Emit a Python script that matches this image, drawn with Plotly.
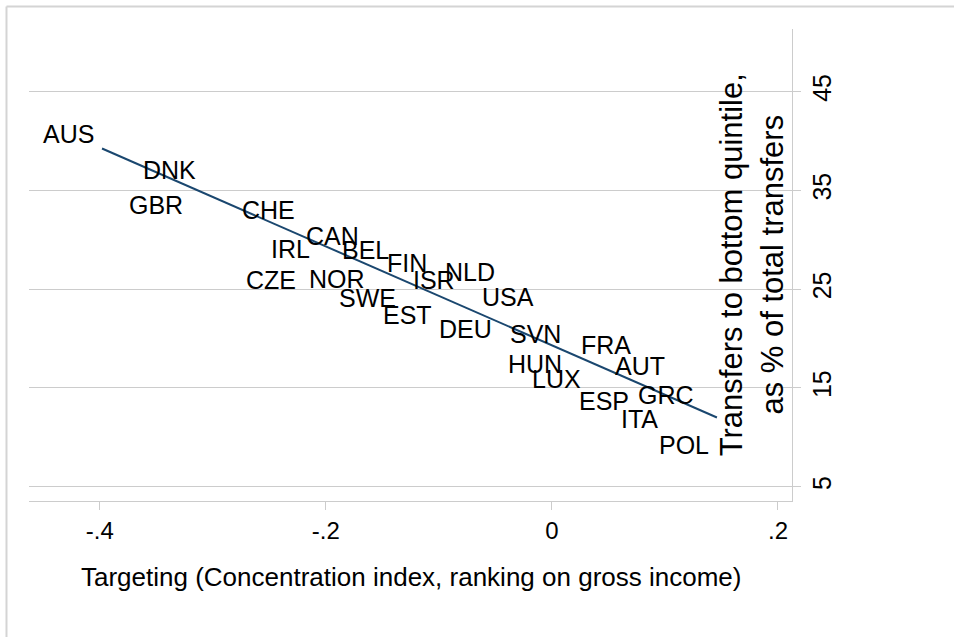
import numpy as np
import plotly.graph_objects as go

countries = ["AUS", "DNK", "GBR", "CHE", "CAN", "IRL", "BEL", "CZE", "NOR", "FIN",
             "ISR", "NLD", "SWE", "USA", "EST", "DEU", "SVN", "HUN", "FRA", "AUT",
             "LUX", "GRC", "ESP", "ITA", "POL"]
targeting = [-0.398, -0.308, -0.319, -0.220, -0.164, -0.207, -0.137, -0.219, -0.158, -0.103,
             -0.079, -0.043, -0.131, -0.009, -0.099, -0.046, 0.015, 0.016, 0.077, 0.107,
             0.033, 0.133, 0.075, 0.101, 0.146]
bottom_share = [40.1, 36.4, 32.9, 32.4, 29.7, 28.4, 28.3, 25.3, 25.4, 27.0,
                25.3, 26.1, 23.5, 23.6, 21.7, 20.3, 19.8, 16.8, 18.7, 16.6,
                15.2, 13.6, 13.0, 11.2, 8.6]

x_ticks = [-0.4, -0.2, 0, 0.2]
x_ticktext = ["-.4", "-.2", "0", ".2"]
y_ticks = [5, 15, 25, 35, 45]

FONT = "Liberation Sans, Arial, Helvetica, sans-serif"
GRID = "#cccccc"

xa = np.array(targeting)
ya = np.array(bottom_share)
slope, intercept = np.polyfit(xa, ya, 1)
fit_x = np.array([xa.min(), xa.max()])
fit_y = intercept + slope * fit_x

fig = go.Figure()
fig.add_trace(go.Scatter(x=fit_x, y=fit_y, mode="lines",
                         line=dict(color="#1a476f", width=2), showlegend=False,
                         hoverinfo="skip"))
fig.add_trace(go.Scatter(x=targeting, y=bottom_share, mode="markers",
                         marker=dict(size=1, opacity=0), text=countries,
                         showlegend=False))

annotations = []
for c, xv, yv in zip(countries, targeting, bottom_share):
    annotations.append(dict(x=xv, y=yv, xref="x", yref="y", text=c, showarrow=False,
                            xanchor="right", yanchor="middle", xshift=-6, yshift=6.5,
                            font=dict(family=FONT, size=25, color="black")))

annotations.append(dict(x=0.9466, y=0.5, xref="paper", yref="paper",
                        text="Transfers to bottom quintile,<br>as % of total transfers",
                        textangle=-90, showarrow=False, xanchor="center", yanchor="middle",
                        align="center", font=dict(family=FONT, size=31, color="black")))
annotations.append(dict(x=0.5, y=-0.161, xref="paper", yref="paper",
                        text="Targeting (Concentration index, ranking on gross income)",
                        showarrow=False, xanchor="center", yanchor="middle",
                        font=dict(family=FONT, size=26, color="black")))

shapes = [
    dict(type="line", xref="paper", yref="paper", x0=-0.0295, x1=1.25, y0=1.0477, y1=1.0477,
         line=dict(color="#d4d4d4", width=2)),
    dict(type="line", xref="paper", yref="paper", x0=-0.0295, x1=-0.0295, y0=-0.35, y1=1.0477,
         line=dict(color="#d4d4d4", width=2)),
]

fig.update_layout(
    width=954, height=637,
    margin=dict(l=29, r=162, t=29, b=136, autoexpand=False),
    paper_bgcolor="white", plot_bgcolor="white",
    font=dict(family=FONT, color="black"),
    xaxis=dict(range=[-0.4626, 0.2124], tickvals=x_ticks, ticktext=x_ticktext,
               ticks="outside", ticklen=8, tickwidth=1.2, tickcolor=GRID,
               showline=True, linecolor=GRID, linewidth=1.3, showgrid=False,
               zeroline=False, tickfont=dict(size=24, family=FONT, color="black")),
    yaxis=dict(side="right", range=[3.55, 51.35], tickvals=y_ticks,
               ticks="outside", ticklen=8, tickwidth=1.2, tickcolor=GRID,
               showline=True, linecolor=GRID, linewidth=1.3, showgrid=True,
               gridcolor=GRID, gridwidth=1.2, zeroline=False, tickangle=-90,
               tickfont=dict(size=25, family=FONT, color="black")),
    annotations=annotations,
    shapes=shapes,
    showlegend=False,
)

fig.write_html("out.html",
               config={"displayModeBar": False},
               post_script="document.body.style.margin='0';document.body.style.padding='0';document.body.style.overflow='hidden';")
